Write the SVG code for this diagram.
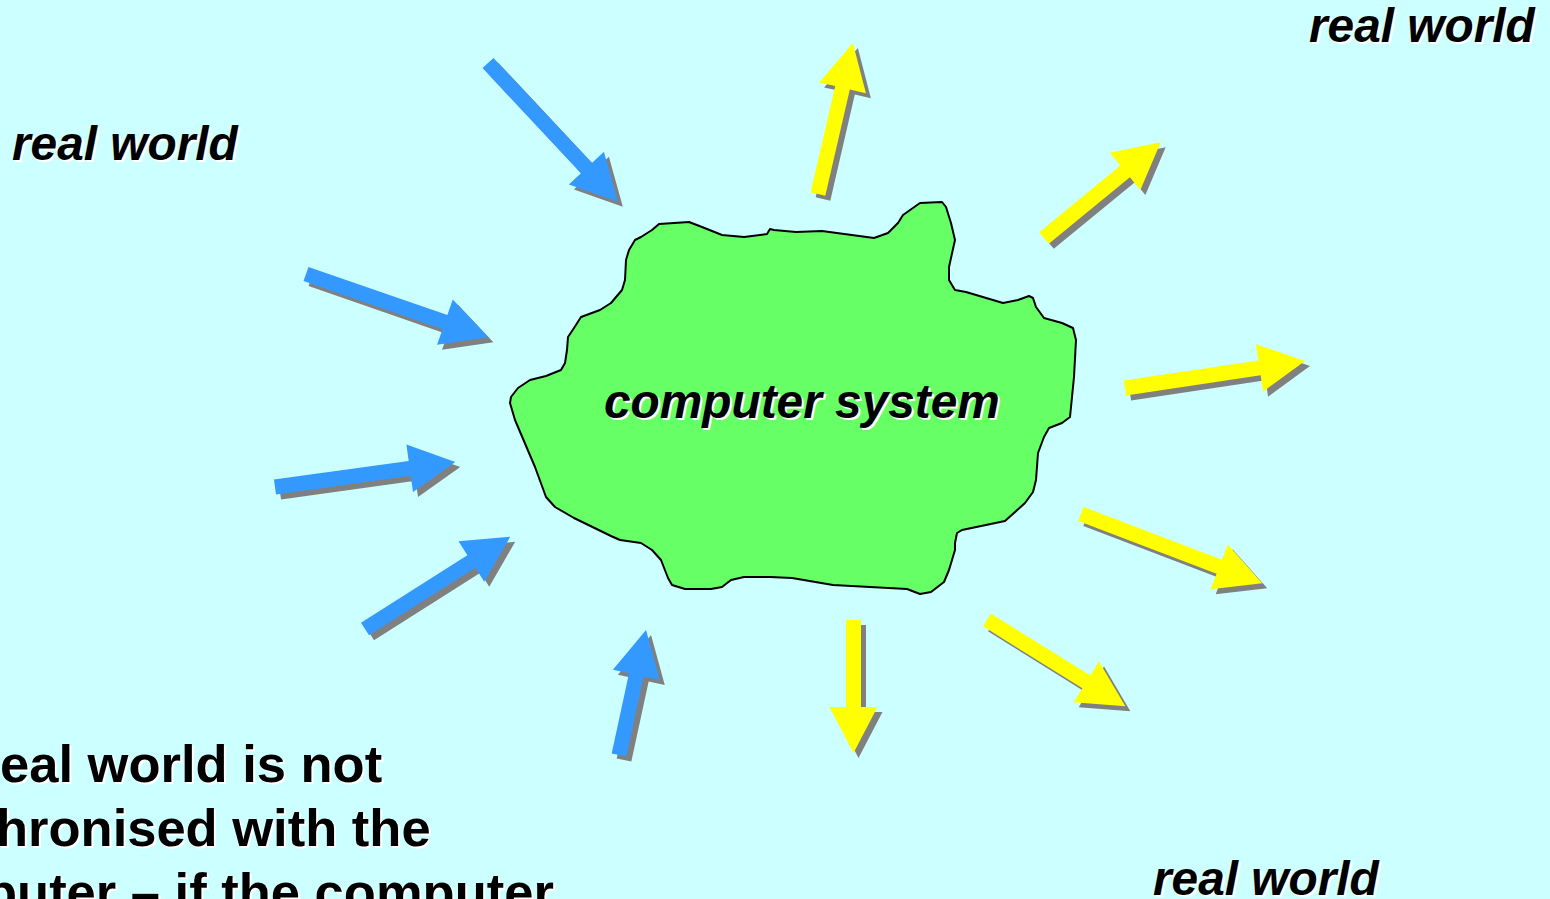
<svg xmlns="http://www.w3.org/2000/svg" width="1550" height="899" viewBox="0 0 1550 899">
  <style>
    .bg { fill: #CCFFFF; }
    .cloud { fill: #66FF66; stroke: #000000; stroke-width: 2; stroke-linejoin: round; }
    .shadow { fill: #808080; }
    .in { fill: #3399FF; }
    .out { fill: #FFFF00; }
    .lbl { font-family: "Liberation Sans", Arial, sans-serif; font-weight: bold; font-style: italic; font-size: 47.8px; }
    .note { font-family: "Liberation Sans", Arial, sans-serif; font-weight: bold; font-size: 52.5px; }
    .halo { fill: #FFFFFF; }
    .ink { fill: #000000; }
  </style>

  <rect class="bg" x="0" y="0" width="1550" height="899"/>

  <!-- central node -->
  <g id="computer-system">
    <path class="cloud" d="M659,224 L689,222 L702,227 L722,235 L744,237 L767,234 L770,229 L774,230 L796,232 L822,231 L874,238 L888,233 L898,223 L903,215 L920,203 L942,202 L946,207 L951,223 L955,240 L949,267 L949,280 L955,290 L966,292 L1003,303 L1018,300 L1029,296 L1033,298 L1036,307 L1044,318 L1062,323 L1073,328 L1076,340 L1074,377 L1070,417 L1062,423 L1049,428 L1044,437 L1038,453 L1036,480 L1033,492 L1025,503 L1005,521 L962,530 L957,533 L955,543 L955,550 L949,570 L944,582 L931,592 L920,594 L907,589 L833,585 L792,578 L770,577 L744,577 L731,580 L722,587 L711,589 L685,589 L672,585 L668,578 L661,560 L652,550 L641,543 L620,540 L611,536 L574,518 L555,507 L546,497 L535,467 L515,420 L510,403 L511,397 L518,388 L530,380 L546,376 L561,370 L565,363 L567,350 L568,337 L574,328 L581,317 L600,310 L611,303 L622,290 L625,280 L626,260 L629,250 L635,240 L641,237 L652,230 Z"/>
    <text class="lbl halo" x="606" y="420">computer system</text>
    <text class="lbl ink" x="604" y="418">computer system</text>
  </g>

  <!-- real world labels -->
  <g id="real-world-left">
    <text class="lbl halo" x="14" y="162">real world</text>
    <text class="lbl ink" x="12" y="160">real world</text>
  </g>
  <g id="real-world-top-right">
    <text class="lbl halo" x="1311" y="44">real world</text>
    <text class="lbl ink" x="1309" y="42">real world</text>
  </g>
  <g id="real-world-bottom">
    <text class="lbl halo" x="1155" y="897">real world</text>
    <text class="lbl ink" x="1153" y="895">real world</text>
  </g>

  <!-- note text -->
  <g id="note">
    <text class="note halo" x="2" y="784">eal world is not</text>
    <text class="note ink" x="0" y="782">eal world is not</text>
    <text class="note halo" x="-2" y="848">hronised with the</text>
    <text class="note ink" x="-4" y="846">hronised with the</text>
    <text class="note halo" x="-13" y="912">puter – if the computer</text>
    <text class="note ink" x="-15" y="910">puter – if the computer</text>
  </g>

  <!-- connectors: inputs (blue) and outputs (yellow) -->
  <g id="connectors">
    <g id="in-1">
      <polygon class="shadow" transform="translate(493,68) rotate(46.9)" points="0,-7.5 144,-7.5 144,-24 190,0 144,24 144,7.5 0,7.5"/>
      <polygon class="in" transform="translate(488,63) rotate(46.9)" points="0,-7.5 144,-7.5 144,-24 190,0 144,24 144,7.5 0,7.5"/>
    </g>
    <g id="in-2">
      <polygon class="shadow" transform="translate(311,279) rotate(19.1)" points="0,-7.5 147,-7.5 147,-24 193,0 147,24 147,7.5 0,7.5"/>
      <polygon class="in" transform="translate(306,274) rotate(19.1)" points="0,-7.5 147,-7.5 147,-24 193,0 147,24 147,7.5 0,7.5"/>
    </g>
    <g id="in-3">
      <polygon class="shadow" transform="translate(280,492) rotate(-7.9)" points="0,-7.5 136,-7.5 136,-24 182,0 136,24 136,7.5 0,7.5"/>
      <polygon class="in" transform="translate(275,487) rotate(-7.9)" points="0,-7.5 136,-7.5 136,-24 182,0 136,24 136,7.5 0,7.5"/>
    </g>
    <g id="in-4">
      <polygon class="shadow" transform="translate(370,634) rotate(-32.4)" points="0,-7.5 126,-7.5 126,-24 172,0 126,24 126,7.5 0,7.5"/>
      <polygon class="in" transform="translate(365,629) rotate(-32.4)" points="0,-7.5 126,-7.5 126,-24 172,0 126,24 126,7.5 0,7.5"/>
    </g>
    <g id="in-5">
      <polygon class="shadow" transform="translate(624,760) rotate(-77.8)" points="0,-7.5 82,-7.5 82,-24 128,0 82,24 82,7.5 0,7.5"/>
      <polygon class="in" transform="translate(619,755) rotate(-77.8)" points="0,-7.5 82,-7.5 82,-24 128,0 82,24 82,7.5 0,7.5"/>
    </g>

    <g id="out-1">
      <polygon class="shadow" transform="translate(823,199) rotate(-77)" points="0,-7.5 109,-7.5 109,-24 155,0 109,24 109,7.5 0,7.5"/>
      <polygon class="out" transform="translate(818,194) rotate(-77)" points="0,-7.5 109,-7.5 109,-24 155,0 109,24 109,7.5 0,7.5"/>
    </g>
    <g id="out-2">
      <polygon class="shadow" transform="translate(1049,243) rotate(-39.4)" points="0,-7.5 105,-7.5 105,-24 151,0 105,24 105,7.5 0,7.5"/>
      <polygon class="out" transform="translate(1044,238) rotate(-39.4)" points="0,-7.5 105,-7.5 105,-24 151,0 105,24 105,7.5 0,7.5"/>
    </g>
    <g id="out-3">
      <polygon class="shadow" transform="translate(1130,393) rotate(-8.5)" points="0,-7.5 136,-7.5 136,-24 182,0 136,24 136,7.5 0,7.5"/>
      <polygon class="out" transform="translate(1125,388) rotate(-8.5)" points="0,-7.5 136,-7.5 136,-24 182,0 136,24 136,7.5 0,7.5"/>
    </g>
    <g id="out-4">
      <polygon class="shadow" transform="translate(1086,519) rotate(20.9)" points="0,-7.5 148,-7.5 148,-24 194,0 148,24 148,7.5 0,7.5"/>
      <polygon class="out" transform="translate(1081,514) rotate(20.9)" points="0,-7.5 148,-7.5 148,-24 194,0 148,24 148,7.5 0,7.5"/>
    </g>
    <g id="out-5">
      <polygon class="shadow" transform="translate(992,625) rotate(31.9)" points="0,-7.5 117,-7.5 117,-24 163,0 117,24 117,7.5 0,7.5"/>
      <polygon class="out" transform="translate(987,620) rotate(31.9)" points="0,-7.5 117,-7.5 117,-24 163,0 117,24 117,7.5 0,7.5"/>
    </g>
    <g id="out-6">
      <polygon class="shadow" transform="translate(858.5,625) rotate(90)" points="0,-7.5 87,-7.5 87,-24 133,0 87,24 87,7.5 0,7.5"/>
      <polygon class="out" transform="translate(853.5,620) rotate(90)" points="0,-7.5 87,-7.5 87,-24 133,0 87,24 87,7.5 0,7.5"/>
    </g>
  </g>
</svg>
